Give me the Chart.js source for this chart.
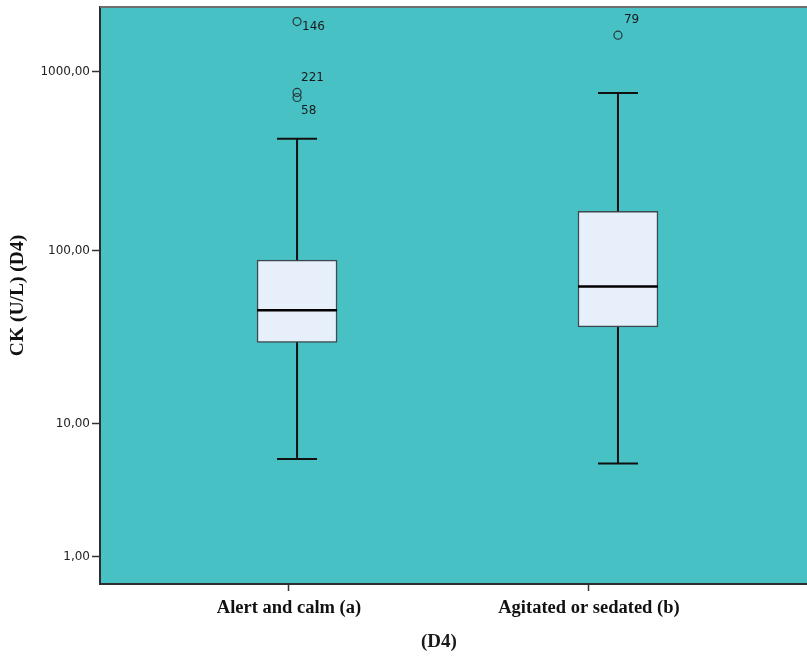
<!DOCTYPE html>
<html>
<head>
<meta charset="utf-8">
<script src="https://cdn.jsdelivr.net/npm/chart.js@4/dist/chart.umd.min.js"></script>
<style>
  html, body { margin: 0; padding: 0; background: #ffffff; overflow: hidden; }
  #wrap { width: 807px; height: 656px; }
</style>
</head>
<body>
<div id="wrap"><canvas id="c" width="807" height="656"></canvas></div>
<script>
// Box summary per group (CK, U/L)
const categories   = ['Alert and calm (a)', 'Agitated or sedated (b)'];
const whiskerLow   = [6.0, 5.6];
const quartile1    = [30.2, 37.0];
const medianValues = [46.0, 62.7];
const quartile3    = [88.3, 166];
const whiskerHigh  = [422, 759];
const outlierValues = [[1895, 764, 716], [1591]];
const outlierIds    = [['146', '221', '58'], ['79']];
const yTickValues   = [1, 10, 100, 1000];

// Style constants
const PLOT_BG = 'rgb(72,193,197)';
const BOX_FILL = '#e6effa';
const BOX_EDGE = '#3d4b50';
const BOX_WIDTH = 80;
const CAP_WIDTH = 40;
const idOffsets = { '146': [5, 5], '221': [4, -15], '58': [4, 13], '79': [6, -15] };

// "Safe log" axis: position follows log10(1 + v)
const safeLog = v => Math.log10(1 + v);
const safeExp = t => Math.pow(10, t) - 1;

class SafeLogScale extends Chart.Scale {
  determineDataLimits() {
    const { min, max } = this.getMinMax(true);
    this.min = Number.isFinite(this.options.min) ? this.options.min : min;
    this.max = Number.isFinite(this.options.max) ? this.options.max : max;
  }
  buildTicks() {
    return yTickValues.map(v => ({ value: v }));
  }
  configure() {
    super.configure();
    this._start = safeLog(this.min);
    this._range = safeLog(this.max) - this._start;
  }
  getLabelForValue(v) { return String(v); }
  getPixelForValue(v) {
    return this.getPixelForDecimal((safeLog(v) - this._start) / this._range);
  }
  getValueForPixel(p) {
    return safeExp(this._start + this.getDecimalForPixel(p) * this._range);
  }
}
SafeLogScale.id = 'safeLog';
SafeLogScale.defaults = {};
Chart.register(SafeLogScale);

const positions = categories.map((_, i) => i + 1);
const fmtComma = v => v.toFixed(2).replace('.', ',');
const noPad = s => { s.paddingLeft = 0; s.paddingRight = 0; s.paddingTop = 0; s.paddingBottom = 0; };

// Teal plot panel, top frame line and x-axis title
const panelPlugin = {
  id: 'panel',
  beforeDraw(chart) {
    const { ctx, chartArea: a } = chart;
    ctx.save();
    ctx.fillStyle = PLOT_BG;
    ctx.fillRect(a.left, a.top, a.right - a.left, a.bottom - a.top);
    ctx.restore();
  },
  afterDraw(chart) {
    const { ctx, chartArea: a } = chart;
    const xs = chart.scales.x;
    ctx.save();
    ctx.strokeStyle = '#6e6e6e';
    ctx.lineWidth = 2;
    ctx.beginPath();
    ctx.moveTo(a.left, a.top);
    ctx.lineTo(a.right, a.top);
    ctx.stroke();
    // axis title centred between the category ticks
    const mid = (xs.getPixelForValue(positions[0]) + xs.getPixelForValue(positions[positions.length - 1])) / 2;
    ctx.fillStyle = '#1a1a1a';
    ctx.font = 'bold 19px "Liberation Serif", serif';
    ctx.textAlign = 'center';
    ctx.textBaseline = 'middle';
    ctx.fillText('(D4)', mid, 642);
    ctx.restore();
  }
};

// Whiskers, caps, medians and outlier id labels
const boxPlugin = {
  id: 'boxParts',
  afterDatasetsDraw(chart) {
    const { ctx } = chart;
    const xs = chart.scales.xBox, ys = chart.scales.y;
    ctx.save();
    positions.forEach((p, i) => {
      const cx = xs.getPixelForValue(p);
      const yLo = ys.getPixelForValue(whiskerLow[i]);
      const yQ1 = ys.getPixelForValue(quartile1[i]);
      const yQ3 = ys.getPixelForValue(quartile3[i]);
      const yHi = ys.getPixelForValue(whiskerHigh[i]);
      const yMed = ys.getPixelForValue(medianValues[i]);
      ctx.strokeStyle = '#111111';
      ctx.lineWidth = 2;
      ctx.beginPath();
      ctx.moveTo(cx, yQ3); ctx.lineTo(cx, yHi);
      ctx.moveTo(cx, yQ1); ctx.lineTo(cx, yLo);
      ctx.moveTo(cx - CAP_WIDTH / 2, yHi); ctx.lineTo(cx + CAP_WIDTH / 2, yHi);
      ctx.moveTo(cx - CAP_WIDTH / 2, yLo); ctx.lineTo(cx + CAP_WIDTH / 2, yLo);
      ctx.stroke();
      ctx.lineWidth = 2.5;
      ctx.strokeStyle = '#000000';
      ctx.beginPath();
      ctx.moveTo(cx - BOX_WIDTH / 2, yMed); ctx.lineTo(cx + BOX_WIDTH / 2, yMed);
      ctx.stroke();

      ctx.fillStyle = '#1a1a1a';
      ctx.font = '12px "DejaVu Sans", sans-serif';
      ctx.textAlign = 'left';
      ctx.textBaseline = 'middle';
      outlierValues[i].forEach((v, k) => {
        const id = outlierIds[i][k];
        const off = idOffsets[id] || [5, 0];
        ctx.fillText(id, cx + off[0], ys.getPixelForValue(v) + off[1]);
      });
    });
    ctx.restore();
  }
};

const boxData = positions.map((p, i) => ({ x: p, y: [quartile1[i], quartile3[i]] }));
const outlierData = [];
positions.forEach((p, i) => outlierValues[i].forEach(v => outlierData.push({ x: p, y: v })));

new Chart(document.getElementById('c'), {
  type: 'bar',
  data: {
    datasets: [
      {
        type: 'bar',
        xAxisID: 'xBox',
        data: boxData,
        backgroundColor: BOX_FILL,
        borderColor: BOX_EDGE,
        borderWidth: 1.5,
        borderSkipped: false,
        barThickness: BOX_WIDTH,
        order: 2
      },
      {
        type: 'scatter',
        xAxisID: 'xBox',
        data: outlierData,
        pointStyle: 'circle',
        pointRadius: 4,
        pointBorderWidth: 1.2,
        pointBorderColor: '#263838',
        pointBackgroundColor: 'rgba(0,0,0,0)',
        order: 1
      }
    ]
  },
  options: {
    responsive: false,
    animation: false,
    events: [],
    layout: { autoPadding: false, padding: { top: 7, right: -5, bottom: 0, left: 0 } },
    plugins: { legend: { display: false }, tooltip: { enabled: false } },
    scales: {
      // category axis with its tick marks and labels
      x: {
        type: 'linear',
        position: 'bottom',
        offset: false,
        min: 0.37,
        max: 2.727,
        afterBuildTicks: s => { s.ticks = positions.map(v => ({ value: v })); },
        afterFit: s => { s.height = 72; noPad(s); },
        grid: { display: true, offset: false, drawOnChartArea: false, drawTicks: true, tickLength: 7, tickColor: '#333333', tickWidth: 1.5 },
        border: { display: true, color: '#2e2e2e', width: 2 },
        ticks: {
          autoSkip: false,
          maxRotation: 0,
          padding: 6,
          color: '#111111',
          font: { family: '"Liberation Serif", serif', size: 18.5, weight: 'bold' },
          callback: v => categories[v - 1]
        },
        title: { display: false }
      },
      // placement axis for the boxes themselves
      xBox: {
        type: 'linear',
        position: 'bottom',
        display: false,
        offset: false,
        min: 0.386,
        max: 2.589
      },
      y: {
        type: 'safeLog',
        offset: false,
        min: 0.413,
        max: 2283,
        afterFit: s => { s.width = 100; noPad(s); },
        grid: { display: true, offset: false, drawOnChartArea: false, drawTicks: true, tickLength: 8, tickColor: '#333333', tickWidth: 1.5 },
        border: { display: true, color: '#2e2e2e', width: 2 },
        ticks: {
          padding: 2,
          color: '#222222',
          font: { family: '"DejaVu Sans", sans-serif', size: 12 },
          callback: v => fmtComma(v)
        },
        title: {
          display: true,
          text: 'CK (U/L) (D4)',
          color: '#111111',
          padding: { top: 6, bottom: 0 },
          font: { family: '"Liberation Serif", serif', size: 19.5, weight: 'bold' }
        }
      }
    }
  },
  plugins: [panelPlugin, boxPlugin]
});
</script>
</body>
</html>
